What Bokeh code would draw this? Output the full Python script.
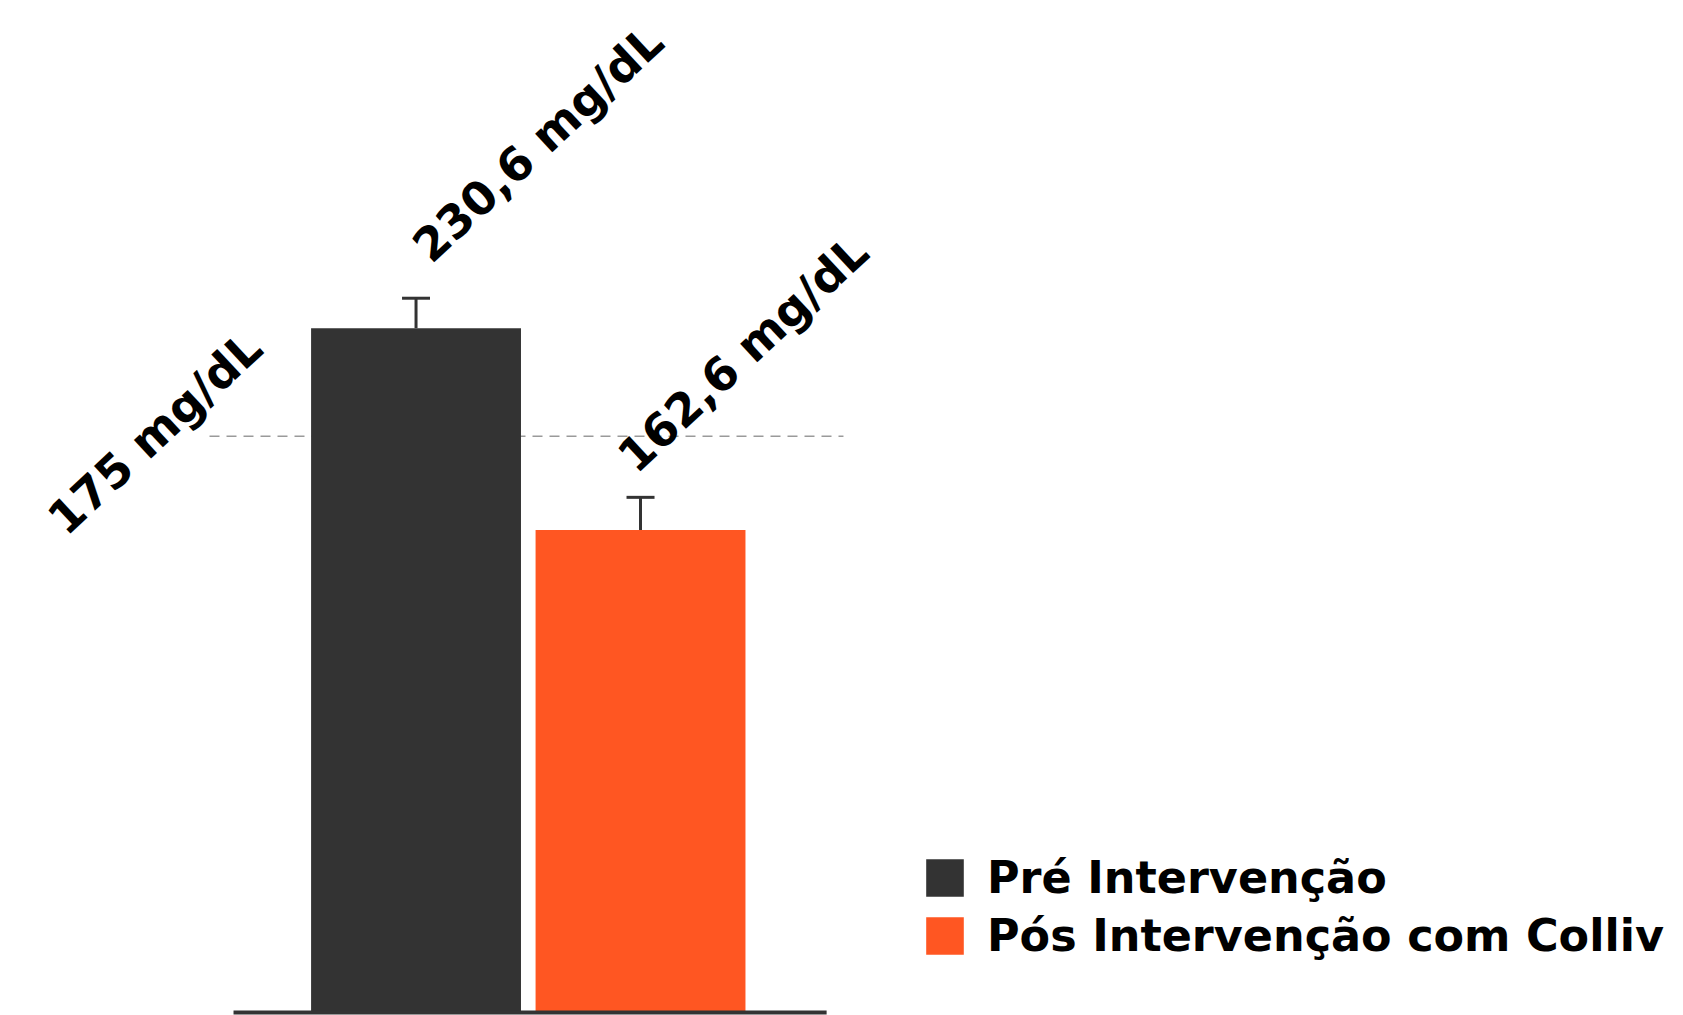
from bokeh.plotting import figure
from bokeh.models import ColumnDataSource, Whisker, TeeHead, Legend, LegendItem, Range1d
from bokeh.core.properties import value
from bokeh.embed import file_html
from bokeh.resources import INLINE

# ---- data ----
groups = ["Pré Intervenção", "Pós Intervenção com Colliv"]
positions = [1, 2]
means = [230.6, 162.6]
errors = [10.1, 11.0]
bar_labels = ["230,6 mg/dL", "162,6 mg/dL"]
reference_level = 194.2          # where the dashed reference line is drawn
reference_label = "175 mg/dL"
colors = ["#333333", "#FF5622"]

FONT = "DejaVu Sans"

p = figure(width=1683, height=1015, output_backend="svg", toolbar_location=None,
           x_axis_type=None, y_axis_type=None, min_border=0,
           x_range=Range1d(-0.851, 6.646), y_range=Range1d(-1.01, 341.03))
p.grid.visible = False
p.outline_line_color = None
p.background_fill_color = "white"
p.border_fill_color = "white"

# dashed reference line (behind bars)
p.segment(x0=[0.08], x1=[2.904], y0=[reference_level], y1=[reference_level],
          line_color="#9a9a9a", line_width=1.5, line_dash="10 7")

src = ColumnDataSource(dict(x=positions, top=means, color=colors, group=groups,
                            upper=[m + e for m, e in zip(means, errors)]))
bars = p.vbar(x="x", top="top", bottom=0, width=0.935, fill_color="color",
              line_color=None, source=src)

whisk = Whisker(base="x", lower="top", upper="upper", source=src,
                line_color="#333333", line_width=3,
                upper_head=TeeHead(size=28, line_color="#333333", line_width=3),
                lower_head=None)
p.add_layout(whisk)

# baseline
p.segment(x0=[0.187], x1=[2.829], y0=[0], y1=[0], line_color="#333333", line_width=4)

# value labels
lab_src = ColumnDataSource(dict(
    x=[positions[0] + 0.02, positions[1] - 0.067, -0.606],
    y=[means[0] + errors[0] + 15.2, means[1] + errors[1] + 11.5, reference_level - 30.1],
    text=bar_labels + [reference_label]))
p.text(x="x", y="y", text="text", source=lab_src, angle=0.75,
       text_font=value(FONT), text_font_style="bold", text_font_size="46px",
       text_color="black", text_align="left", text_baseline="alphabetic")

legend = Legend(items=[LegendItem(label=groups[0], renderers=[bars], index=0),
                       LegendItem(label=groups[1], renderers=[bars], index=1)],
                location=(921, 54), glyph_width=47, glyph_height=47,
                label_text_font=FONT, label_text_font_style="bold",
                label_text_font_size="44.5px", label_text_color="black",
                label_standoff=19, spacing=7, padding=0, margin=0,
                border_line_color=None, background_fill_alpha=0)
p.add_layout(legend)

open("out.html", "w").write(file_html(p, INLINE))
